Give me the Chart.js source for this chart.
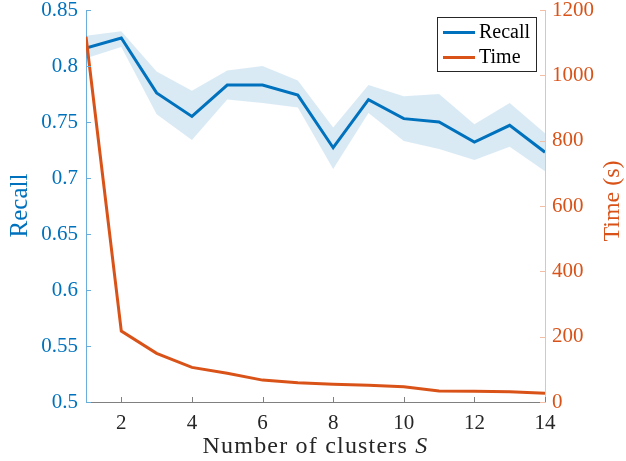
<!DOCTYPE html>
<html><head><meta charset="utf-8">
<script src="https://cdn.jsdelivr.net/npm/chart.js@4/dist/chart.umd.min.js"></script>
<style>html,body{margin:0;padding:0;background:#fff}#wrap{width:626px;height:461px}</style>
</head><body><div id="wrap"><canvas id="c" width="626" height="461"></canvas></div>
<script>
const clusters = [1,2,3,4,5,6,7,8,9,10,11,12,13,14];
const recall = [0.816,0.825,0.776,0.755,0.783,0.783,0.774,0.727,0.770,0.753,0.750,0.732,0.747,0.723];
const recallUpper = [0.827,0.831,0.795,0.778,0.796,0.800,0.787,0.745,0.783,0.773,0.775,0.748,0.767,0.740];
const recallLower = [0.807,0.817,0.757,0.734,0.770,0.767,0.763,0.708,0.758,0.733,0.726,0.716,0.728,0.706];
const timeSec = [1118,217,149,106,88,67,59,54,51,47,34,33,31,27];
const xTicks = [2,4,6,8,10,12,14];
const recallTicks = [0.5,0.55,0.6,0.65,0.7,0.75,0.8,0.85];
const timeTicks = [0,200,400,600,800,1000,1200];
const seriesNames = ['Recall','Time'];

const BLUE = '#0072BD', ORANGE = '#D95319', BAND = 'rgba(0,114,189,0.15)';
const SERIF = "'Liberation Serif', 'DejaVu Serif', serif";
Chart.defaults.font.family = SERIF;
const pts = arr => clusters.map((c,i)=>({x:c,y:arr[i]}));

const customDraw = {
  id:'customDraw',
  afterDraw(chart){
    const ctx = chart.ctx, a = chart.chartArea;
    const sx = chart.scales.x, sl = chart.scales.yL, sr = chart.scales.yR;
    ctx.save();
    ctx.lineWidth = 1;
    ctx.strokeStyle = '#808080';
    xTicks.forEach(v=>{const p=Math.round(sx.getPixelForValue(v))+0.5;ctx.beginPath();ctx.moveTo(p,a.bottom);ctx.lineTo(p,a.bottom-5);ctx.stroke();});
    ctx.strokeStyle = '#6aaedb';
    recallTicks.forEach(v=>{const p=Math.round(sl.getPixelForValue(v))+0.5;ctx.beginPath();ctx.moveTo(a.left,p);ctx.lineTo(a.left+5,p);ctx.stroke();});
    ctx.strokeStyle = '#f2bfa6';
    timeTicks.forEach(v=>{const p=Math.round(sr.getPixelForValue(v))+0.5;ctx.beginPath();ctx.moveTo(a.right,p);ctx.lineTo(a.right-5,p);ctx.stroke();});
    ctx.textAlign='center'; ctx.textBaseline='middle';
    ctx.font = '25px '+SERIF;
    ctx.fillStyle = BLUE;
    ctx.save(); ctx.translate(20,205.5); ctx.rotate(-Math.PI/2); ctx.fillText('Recall',0,0); ctx.restore();
    ctx.font = '24px '+SERIF;
    ctx.fillStyle = ORANGE;
    ctx.save(); ctx.translate(613,201); ctx.rotate(-Math.PI/2); ctx.fillText('Time (s)',0,0); ctx.restore();
    ctx.fillStyle = '#262626';
    const t1 = 'Number of clusters ', t2 = 'S';
    ctx.letterSpacing = '1.2px';
    ctx.font = '24px '+SERIF; const w1 = ctx.measureText(t1).width;
    ctx.font = 'italic 24px '+SERIF; const w2 = ctx.measureText(t2).width;
    const cx = (a.left+a.right)/2, x0 = cx-(w1+w2)/2;
    ctx.textAlign='left'; ctx.textBaseline='alphabetic';
    ctx.font = '24px '+SERIF; ctx.fillText(t1,x0,453);
    ctx.font = 'italic 24px '+SERIF; ctx.fillText(t2,x0+w1,453);
    ctx.letterSpacing = '0px';
    const lx=437.5, ly=17.5, lw=99, lh=54;
    ctx.fillStyle='#fff'; ctx.fillRect(lx,ly,lw,lh);
    ctx.strokeStyle='#262626'; ctx.lineWidth=1; ctx.strokeRect(lx,ly,lw,lh);
    const cols=[BLUE,ORANGE], ys=[32.5,57.5];
    ctx.font='20px '+SERIF; ctx.textBaseline='middle';
    seriesNames.forEach((n,i)=>{
      ctx.strokeStyle=cols[i]; ctx.lineWidth=3;
      ctx.beginPath(); ctx.moveTo(443,ys[i]); ctx.lineTo(475,ys[i]); ctx.stroke();
      ctx.fillStyle='#000'; ctx.fillText(n,479,ys[i]);
    });
    ctx.restore();
  }
};

const noPad = s => { s.paddingTop = 0; s.paddingBottom = 0; };

new Chart(document.getElementById('c'),{
  type:'line',
  data:{datasets:[
    {label:'lower',data:pts(recallLower),yAxisID:'yL',borderWidth:0,pointRadius:0,fill:false,order:3,borderColor:'rgba(0,0,0,0)'},
    {label:'upper',data:pts(recallUpper),yAxisID:'yL',borderWidth:0,pointRadius:0,fill:'-1',backgroundColor:BAND,order:2,borderColor:'rgba(0,0,0,0)'},
    {label:seriesNames[0],data:pts(recall),yAxisID:'yL',borderColor:BLUE,borderWidth:3,pointRadius:0,fill:false,order:1},
    {label:seriesNames[1],data:pts(timeSec),yAxisID:'yR',borderColor:ORANGE,borderWidth:3,pointRadius:0,fill:false,order:0}
  ]},
  options:{
    responsive:false, animation:false,
    layout:{padding:{top:10,left:0,right:0,bottom:0}},
    plugins:{legend:{display:false},tooltip:{enabled:false}},
    scales:{
      x:{type:'linear',position:'bottom',min:1,max:14,
        afterBuildTicks:s=>{s.ticks=xTicks.map(v=>({value:v}));},
        afterFit:s=>{s.height=59; s.paddingLeft=0; s.paddingRight=0;},
        grid:{display:true,drawOnChartArea:false,drawTicks:false},
        border:{display:true,color:'#808080',width:1},
        ticks:{color:'#262626',font:{family:SERIF,size:21},padding:9,maxRotation:0,autoSkip:false,callback:v=>String(v)}},
      yL:{type:'linear',position:'left',min:0.5,max:0.85,
        afterBuildTicks:s=>{s.ticks=recallTicks.map(v=>({value:v}));},
        afterFit:s=>{s.width=86; noPad(s);},
        grid:{display:true,drawOnChartArea:false,drawTicks:false},
        border:{display:true,color:'#6aaedb',width:1},
        ticks:{color:BLUE,font:{family:SERIF,size:21},padding:8,callback:v=>String(Number(v.toFixed(2)))}},
      yR:{type:'linear',position:'right',min:0,max:1200,
        afterBuildTicks:s=>{s.ticks=timeTicks.map(v=>({value:v}));},
        afterFit:s=>{s.width=81; noPad(s);},
        grid:{display:true,drawOnChartArea:false,drawTicks:false},
        border:{display:true,color:'#f2bfa6',width:1},
        ticks:{color:ORANGE,font:{family:SERIF,size:21},padding:7,callback:v=>String(v)}}
    }
  },
  plugins:[customDraw]
});
</script></body></html>
